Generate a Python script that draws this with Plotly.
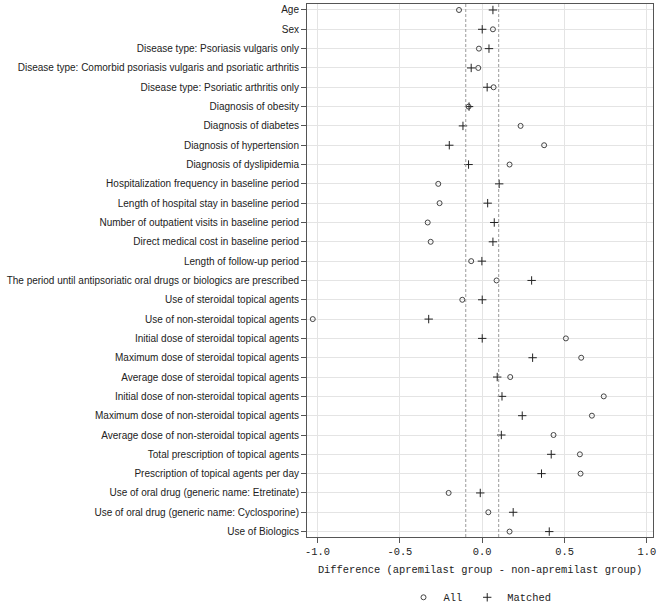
import plotly.graph_objects as go

categories = [
    "Age",
    "Sex",
    "Disease type: Psoriasis vulgaris only",
    "Disease type: Comorbid psoriasis vulgaris and psoriatic arthritis",
    "Disease type: Psoriatic arthritis only",
    "Diagnosis of obesity",
    "Diagnosis of diabetes",
    "Diagnosis of hypertension",
    "Diagnosis of dyslipidemia",
    "Hospitalization frequency in baseline period",
    "Length of hospital stay in baseline period",
    "Number of outpatient visits in baseline period",
    "Direct medical cost in baseline period",
    "Length of follow-up period",
    "The period until antipsoriatic oral drugs or biologics are prescribed",
    "Use of steroidal topical agents",
    "Use of non-steroidal topical agents",
    "Initial dose of steroidal topical agents",
    "Maximum dose of steroidal topical agents",
    "Average dose of steroidal topical agents",
    "Initial dose of non-steroidal topical agents",
    "Maximum dose of non-steroidal topical agents",
    "Average dose of non-steroidal topical agents",
    "Total prescription of topical agents",
    "Prescription of topical agents per day",
    "Use of oral drug (generic name: Etretinate)",
    "Use of oral drug (generic name: Cyclosporine)",
    "Use of Biologics",
]

all_values = [
    -0.141, 0.065, -0.020, -0.024, 0.069, -0.083, 0.233, 0.376, 0.166,
    -0.267, -0.259, -0.331, -0.313, -0.067, 0.087, -0.121, -1.029, 0.508,
    0.601, 0.170, 0.738, 0.666, 0.433, 0.593, 0.597, -0.204, 0.037, 0.166,
]

matched_values = [
    0.065, 0.000, 0.041, -0.067, 0.030, -0.080, -0.117, -0.200, -0.083,
    0.103, 0.033, 0.073, 0.065, -0.002, 0.300, 0.000, -0.325, 0.000,
    0.306, 0.091, 0.120, 0.243, 0.116, 0.419, 0.360, -0.012, 0.188, 0.407,
]

thresholds = [-0.1, 0.1]
x_tick_vals = [-1.0, -0.5, 0.0, 0.5, 1.0]
x_tick_text = ["-1.0", "-0.5", "0.0", "0.5", "1.0"]

MONO = "Liberation Mono, DejaVu Sans Mono, monospace"
SANS = "Liberation Sans, Arial, sans-serif"

fig = go.Figure()
fig.add_trace(go.Scatter(
    x=all_values, y=categories, mode="markers", name="All",
    marker=dict(symbol="circle-open", size=5, color="#444444",
                line=dict(width=1, color="#444444")),
))
fig.add_trace(go.Scatter(
    x=matched_values, y=categories, mode="markers", name="Matched",
    marker=dict(symbol="cross-thin-open", size=6, color="#222222",
                line=dict(width=1, color="#222222")),
))

for t in thresholds:
    fig.add_shape(type="line", xref="x", yref="paper", x0=t, x1=t, y0=0, y1=1,
                  line=dict(color="#9a9a9a", width=1, dash="3px,2px"), layer="above")

fig.update_layout(
    width=660, height=607,
    margin=dict(l=307, r=7, t=4, b=70, autoexpand=False),
    plot_bgcolor="white", paper_bgcolor="white",
    font=dict(family=SANS, size=10, color="#222222"),
    showlegend=True,
    legend=dict(orientation="h", x=0.5, xanchor="center",
                yref="container", y=0.016, yanchor="middle",
                font=dict(family=MONO, size=10.4),
                itemwidth=30, tracegroupgap=0),
)
fig.update_xaxes(
    range=[-1.064, 1.037], tickvals=x_tick_vals, ticktext=x_tick_text,
    automargin=False,
    showgrid=True, gridcolor="#e4e4e4", gridwidth=1, zeroline=False,
    showline=True, linecolor="#555555", linewidth=1, mirror=True,
    ticks="outside", ticklen=5, tickcolor="#555555",
    tickfont=dict(family=MONO, size=10.4),
    title=dict(text="Difference (apremilast group - non-apremilast group)",
               font=dict(family=MONO, size=10.4), standoff=8),
)
fig.update_yaxes(
    type="category", categoryorder="array", categoryarray=categories,
    range=[len(categories) - 1 + 0.28, -0.31],
    automargin=False,
    showgrid=True, gridcolor="#e4e4e4", gridwidth=1, zeroline=False,
    showline=True, linecolor="#555555", linewidth=1, mirror=True,
    ticks="outside", ticklen=5, tickcolor="#555555",
    tickfont=dict(family=SANS, size=10),
)

fig.write_html("out.html", config={"displayModeBar": False},
               post_script="document.body.style.margin='0';document.body.style.overflow='hidden';")
